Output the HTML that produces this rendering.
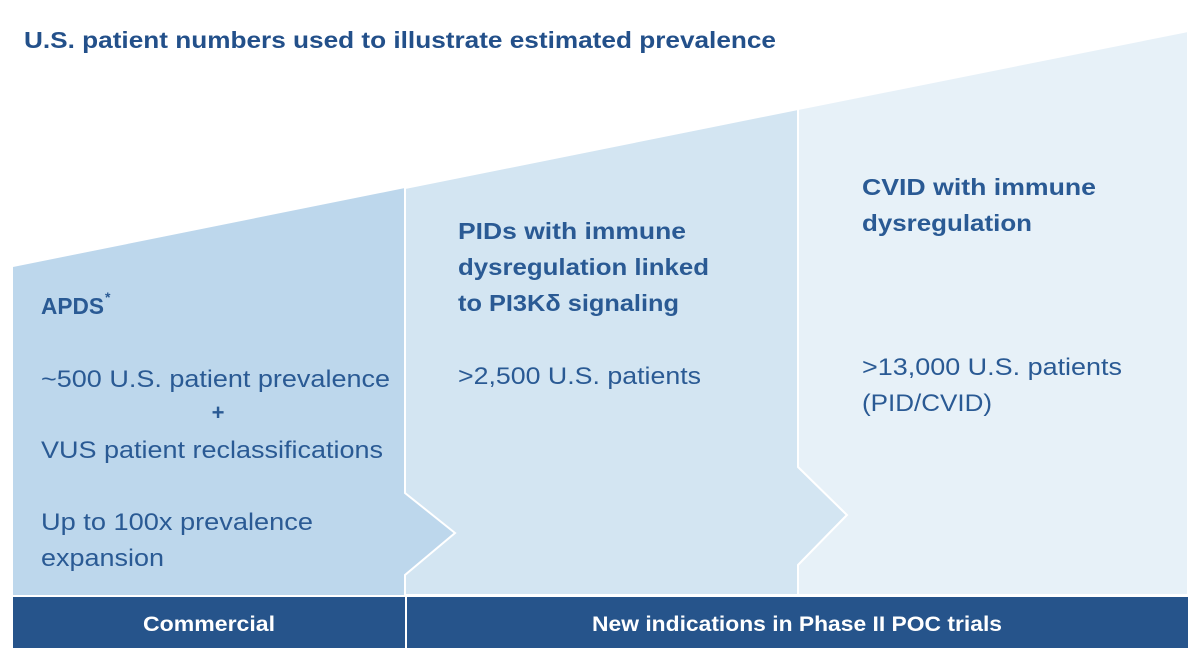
<!DOCTYPE html>
<html><head><meta charset="utf-8"><style>
html,body{margin:0;padding:0;background:#fff;}
text{font-family:"Liberation Sans",sans-serif;}
</style></head><body>
<svg width="1193" height="653" viewBox="0 0 1193 653" xmlns="http://www.w3.org/2000/svg">
<rect width="1193" height="653" fill="#fff"/>
<text x="24" y="48" font-size="23" font-weight="bold" fill="#23508a" textLength="752" lengthAdjust="spacingAndGlyphs">U.S. patient numbers used to illustrate estimated prevalence</text>
<polygon points="13,267 405,188 405,493 455,533 405,575 405,595 13,595" fill="#bdd7ec"/>
<polygon points="405,188 798,109 798,467 847,515 798,565 798,595 405,595 405,575 455,533 405,493" fill="#d3e5f2" stroke="#fff" stroke-width="2"/>
<polygon points="798,109 1188,31 1188,595 798,595 798,565 847,515 798,467" fill="#e7f1f8" stroke="#fff" stroke-width="2"/>
<rect x="13" y="597" width="1175" height="51" fill="#26548b"/>
<line x1="406" y1="597" x2="406" y2="648" stroke="#fff" stroke-width="2"/>
<text x="209" y="631" font-size="21" font-weight="bold" fill="#fff" text-anchor="middle" textLength="132" lengthAdjust="spacingAndGlyphs">Commercial</text>
<text x="797" y="631" font-size="21" font-weight="bold" fill="#fff" text-anchor="middle" textLength="410" lengthAdjust="spacingAndGlyphs">New indications in Phase II POC trials</text>
<g fill="#2a5a94">
<text x="41" y="314" font-size="23" font-weight="bold" textLength="63" lengthAdjust="spacingAndGlyphs">APDS</text>
<text x="105" y="302" font-size="14" font-weight="bold">*</text>
<text x="41" y="387" font-size="24" textLength="349" lengthAdjust="spacingAndGlyphs">~500 U.S. patient prevalence</text>
<text x="218" y="420" font-size="22" font-weight="bold" text-anchor="middle">+</text>
<text x="41" y="458" font-size="24" textLength="342" lengthAdjust="spacingAndGlyphs">VUS patient reclassifications</text>
<text x="41" y="530" font-size="24" textLength="272" lengthAdjust="spacingAndGlyphs">Up to 100x prevalence</text>
<text x="41" y="566" font-size="24" textLength="123" lengthAdjust="spacingAndGlyphs">expansion</text>
<text x="458" y="239" font-size="23" font-weight="bold" textLength="228" lengthAdjust="spacingAndGlyphs">PIDs with immune</text>
<text x="458" y="275" font-size="23" font-weight="bold" textLength="251" lengthAdjust="spacingAndGlyphs">dysregulation linked</text>
<text x="458" y="311" font-size="23" font-weight="bold" textLength="221" lengthAdjust="spacingAndGlyphs">to PI3Kδ signaling</text>
<text x="458" y="384" font-size="24" textLength="243" lengthAdjust="spacingAndGlyphs">&gt;2,500 U.S. patients</text>
<text x="862" y="195" font-size="23" font-weight="bold" textLength="234" lengthAdjust="spacingAndGlyphs">CVID with immune</text>
<text x="862" y="231" font-size="23" font-weight="bold" textLength="170" lengthAdjust="spacingAndGlyphs">dysregulation</text>
<text x="862" y="375" font-size="24" textLength="260" lengthAdjust="spacingAndGlyphs">&gt;13,000 U.S. patients</text>
<text x="862" y="411" font-size="24" textLength="130" lengthAdjust="spacingAndGlyphs">(PID/CVID)</text>
</g>
</svg>
</body></html>
